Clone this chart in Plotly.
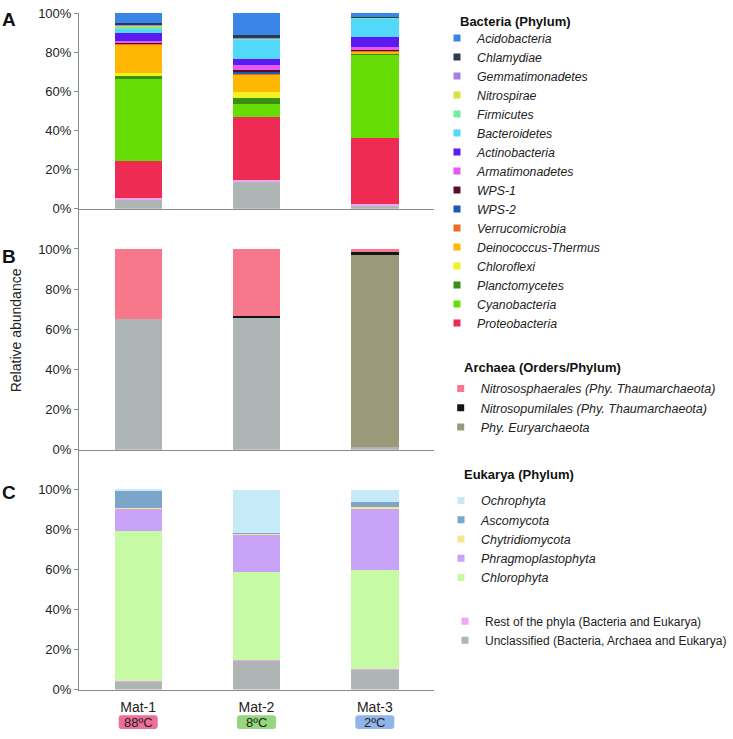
import plotly.graph_objects as go

W, H = 733, 739
samples = ["Mat-1", "Mat-2", "Mat-3"]
temps = ["88ºC", "8ºC", "2ºC"]
temp_colors = ["#EC7099", "#95D67E", "#90B5EA"]
tick_vals = [0, 20, 40, 60, 80, 100]
tick_text = ["0%", "20%", "40%", "60%", "80%", "100%"]

# Panel A - Bacteria (stack order bottom -> top), values in %
bact_names = ["Unclassified", "Rest", "Proteobacteria", "Cyanobacteria", "Planctomycetes",
              "Chloroflexi", "Deinococcus-Thermus", "Verrucomicrobia", "WPS-2", "WPS-1",
              "Armatimonadetes", "Actinobacteria", "Bacteroidetes", "Firmicutes",
              "Nitrospirae", "Gemmatimonadetes", "Chlamydiae", "Acidobacteria"]
bact_mat1 = [5.0, 0.3, 19.4, 41.5, 1.5, 1.8, 14.7, 0.2, 0.1, 0.1, 1.3, 3.8, 2.7, 1.0, 0.6, 0.3, 0.5, 5.2]
bact_mat2 = [13.8, 0.7, 32.2, 7.1, 2.9, 2.8, 9.0, 1.0, 0.8, 0.9, 2.3, 2.9, 10.3, 0.3, 0.4, 0.5, 1.0, 11.1]
bact_mat3 = [2.0, 0.3, 33.7, 42.8, 0.5, 0.3, 0.8, 0.6, 0.2, 0.2, 1.2, 5.2, 9.7, 0.2, 0.1, 0.2, 0.1, 1.9]

# Panel B - Archaea
arch_names = ["Unclassified", "Phy. Euryarchaeota", "Nitrosopumilales (Phy. Thaumarchaeota)",
              "Nitrososphaerales (Phy. Thaumarchaeota)"]
arch_mat1 = [65.0, 0.0, 0.0, 35.0]
arch_mat2 = [66.0, 0.0, 0.4, 33.6]
arch_mat3 = [1.5, 96.0, 0.8, 1.7]

# Panel C - Eukarya
euk_names = ["Unclassified", "Rest", "Chlorophyta", "Phragmoplastophyta", "Chytridiomycota",
             "Ascomycota", "Ochrophyta"]
euk_mat1 = [4.3, 0.2, 75.1, 11.2, 0.2, 8.7, 0.3]
euk_mat2 = [14.6, 0.3, 43.7, 19.0, 0.6, 0.3, 21.5]
euk_mat3 = [9.9, 0.2, 49.9, 30.8, 0.7, 2.3, 6.2]

colors = {
    "Acidobacteria": "#3A86E8", "Chlamydiae": "#2A3A50", "Gemmatimonadetes": "#A87FE6",
    "Nitrospirae": "#D6E23C", "Firmicutes": "#6FF0A0", "Bacteroidetes": "#52D8FA",
    "Actinobacteria": "#5B1AF0", "Armatimonadetes": "#E45AF0", "WPS-1": "#5A0E22",
    "WPS-2": "#1E5AB8", "Verrucomicrobia": "#F06A28", "Deinococcus-Thermus": "#FFB703",
    "Chloroflexi": "#F2F222", "Planctomycetes": "#3A8E10", "Cyanobacteria": "#66DD05",
    "Proteobacteria": "#EE2B52",
    "Nitrososphaerales (Phy. Thaumarchaeota)": "#F7788A",
    "Nitrosopumilales (Phy. Thaumarchaeota)": "#151515",
    "Phy. Euryarchaeota": "#9A9A7A",
    "Ochrophyta": "#C6EAF8", "Ascomycota": "#7BA6CA", "Chytridiomycota": "#F8E58C",
    "Phragmoplastophyta": "#C9A3F8", "Chlorophyta": "#C7FAA4",
    "Rest": "#F4A6F4", "Unclassified": "#AEB6B5",
}
legend_labels = {"Rest": "Rest of the phyla (Bacteria and Eukarya)",
                 "Unclassified": "Unclassified (Bacteria, Archaea and Eukarya)"}

fig = go.Figure()

def add_panel(names, m1, m2, m3, xa, ya):
    for i, n in enumerate(names):
        fig.add_trace(go.Bar(x=samples, y=[m1[i], m2[i], m3[i]], name=n,
                             marker=dict(color=colors[n], line=dict(width=0)),
                             width=0.4, xaxis=xa, yaxis=ya, showlegend=False))

add_panel(bact_names, bact_mat1, bact_mat2, bact_mat3, "x", "y")
add_panel(arch_names, arch_mat1, arch_mat2, arch_mat3, "x2", "y2")
add_panel(euk_names, euk_mat1, euk_mat2, euk_mat3, "x3", "y3")

def add_legend_items(names, legend, grouped=False):
    for n in names:
        fig.add_trace(go.Scatter(x=[None], y=[None], mode="markers", name=legend_labels.get(n, n),
                                 marker=dict(symbol="square", size=7, color=colors[n]),
                                 legend=legend, showlegend=True, hoverinfo="skip",
                                 legendgroup=(legend + n) if grouped else None))

bact_leg = [n for n in bact_names[::-1] if n not in ("Rest", "Unclassified")]
arch_leg = [n for n in arch_names[::-1] if n != "Unclassified"]
euk_leg = [n for n in euk_names[::-1] if n not in ("Rest", "Unclassified")]
add_legend_items(bact_leg, "legend")
add_legend_items(arch_leg, "legend2", grouped=True)
add_legend_items(euk_leg, "legend3", grouped=True)
add_legend_items(["Rest", "Unclassified"], "legend4", grouped=True)

def px(x): return x / W
def py(y): return 1 - y / H

FONT = "Liberation Sans, Arial, sans-serif"
axcol = "#8a8a8a"
xdom = [px(79), px(434)]
ycommon = dict(showline=True, linecolor=axcol, linewidth=1, ticks="outside", ticklen=4,
               tickcolor=axcol, tickmode="array", tickvals=tick_vals, ticktext=tick_text,
               ticklabeloverflow="allow",
               showgrid=False, zeroline=False, tickfont=dict(size=13, color="#222"))
xcommon = dict(showline=True, linecolor=axcol, linewidth=1, showgrid=False, zeroline=False,
               ticks="", type="category")

leg_common = dict(xanchor="left", yanchor="top", bgcolor="rgba(0,0,0,0)", borderwidth=0,
                  traceorder="normal", itemsizing="trace")

fig.update_layout(
    width=W, height=H, margin=dict(l=0, r=0, t=0, b=0),
    paper_bgcolor="white", plot_bgcolor="white", barmode="stack",
    font=dict(family=FONT, color="#222"),
    xaxis=dict(domain=xdom, anchor="y", showticklabels=False, **xcommon),
    xaxis2=dict(domain=xdom, anchor="y2", showticklabels=False, **xcommon),
    xaxis3=dict(domain=xdom, anchor="y3", showticklabels=True, ticklabelstandoff=5,
                tickfont=dict(size=14, color="#222"), **xcommon),
    yaxis=dict(domain=[py(206), py(6)], range=[0, 100.2], anchor="x", **ycommon),
    yaxis2=dict(domain=[py(452), py(206)], range=[0, 120], anchor="x2", **ycommon),
    yaxis3=dict(domain=[py(696.7), py(452)], range=[0, 120], anchor="x3", **ycommon),
    legend=dict(x=px(437), y=py(16.8), tracegroupgap=0,
                font=dict(size=12.3, style="italic", color="#222"), **leg_common),
    legend2=dict(x=px(440.7), y=py(374.4), tracegroupgap=0.75,
                 font=dict(size=12.5, style="italic", color="#222"), **leg_common),
    legend3=dict(x=px(441), y=py(488.7), tracegroupgap=0.75,
                 font=dict(size=12.5, style="italic", color="#222"), **leg_common),
    legend4=dict(x=px(445), y=py(612.2), tracegroupgap=1,
                 font=dict(size=12.0, color="#222"), **leg_common),
)

ann = []
for lab, yc in (("A", 13), ("B", 255), ("C", 496)):
    ann.append(dict(text=lab, x=px(9), y=py(yc), xref="paper", yref="paper", showarrow=False,
                    font=dict(size=19, color="#111", weight="bold"), xanchor="center", yanchor="middle"))
ann.append(dict(text="Relative abundance", x=px(16), y=py(330), xref="paper", yref="paper",
                showarrow=False, textangle=-90, font=dict(size=14, color="#222"),
                xanchor="center", yanchor="middle"))
for t, xl, yc in (("Bacteria (Phylum)", 458, 15), ("Archaea (Orders/Phylum)", 461.7, 368),
                  ("Eukarya (Phylum)", 461.7, 477)):
    ann.append(dict(text=t, x=px(xl), y=py(yc), xref="paper", yref="paper", showarrow=False,
                    font=dict(size=13, color="#111", weight="bold"), xanchor="left", yanchor="middle"))

shapes = []
def rrect(x0, y0, x1, y1, r):
    pts = [("M", x0 + r, y0), ("L", x1 - r, y0), ("Q", x1, y0, x1, y0 + r), ("L", x1, y1 - r),
           ("Q", x1, y1, x1 - r, y1), ("L", x0 + r, y1), ("Q", x0, y1, x0, y1 - r),
           ("L", x0, y0 + r), ("Q", x0, y0, x0 + r, y0)]
    s = ""
    for p in pts:
        cmd = p[0]
        coords = p[1:]
        parts = []
        for k in range(0, len(coords), 2):
            parts.append(f"{px(coords[k]):.5f},{py(coords[k+1]):.5f}")
        s += cmd + " ".join(parts) + " "
    return s + "Z"

step = (434 - 79) / 3
for i, (t, c) in enumerate(zip(temps, temp_colors)):
    cx = 79 + (i + 0.5) * step
    shapes.append(dict(type="path", xref="paper", yref="paper",
                       path=rrect(cx - 19.5, 723, cx + 19.5, 737, 3),
                       fillcolor=c, line=dict(width=0)))
    ann.append(dict(text=t, x=px(cx), y=py(730), xref="paper", yref="paper", showarrow=False,
                    font=dict(size=13, color="#222"), xanchor="center", yanchor="middle"))

fig.update_layout(annotations=ann, shapes=shapes)
fig.write_html(
    "out.html",
    config={"displayModeBar": False},
    post_script=("document.documentElement.style.margin='0px';"
                 "document.body.style.margin='0px';"
                 "document.body.style.overflow='hidden';"
                 "document.documentElement.style.overflow='hidden';"),
)
